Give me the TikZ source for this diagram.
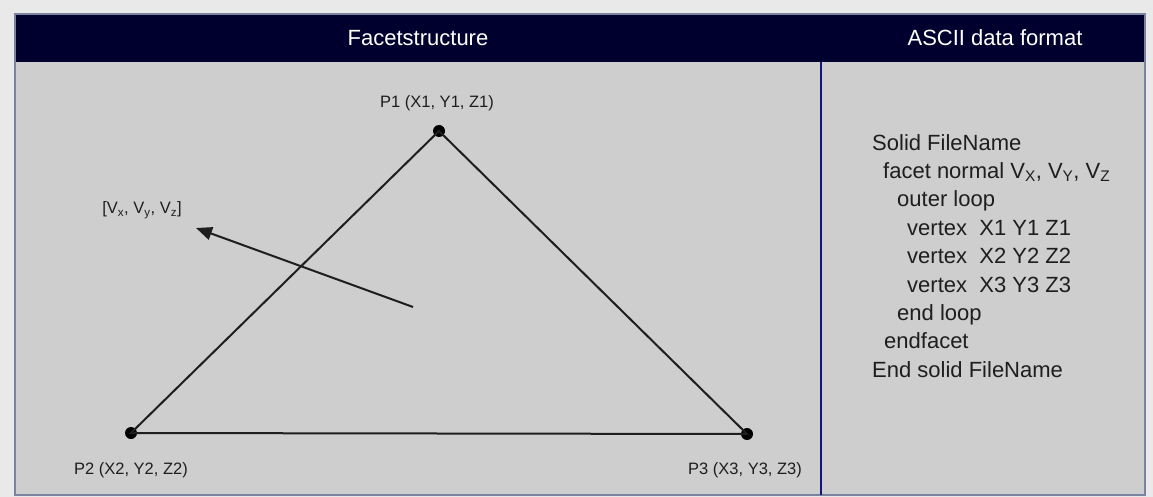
\documentclass[tikz,border=0pt]{standalone}
\usepackage{fontspec}
\setmainfont{Liberation Sans}
\usetikzlibrary{arrows.meta}
\definecolor{navy}{HTML}{00002E}
\definecolor{panel}{HTML}{CECECE}
\definecolor{outerbg}{HTML}{E9E9E9}
\definecolor{framec}{HTML}{7A84A0}
\definecolor{divc}{HTML}{14147A}
\definecolor{ink}{HTML}{1E1E1E}
\tikzset{
  edge/.style={draw=ink, line width=2pt},
  vtx/.style={circle, fill=black, inner sep=0pt, minimum size=12pt},
  lbl/.style={font=\fontsize{16.5}{18}\selectfont, text=ink, inner sep=0pt},
  hdr/.style={font=\fontsize{22}{24}\selectfont, text=white, inner sep=0pt},
  code/.style={font=\fontsize{22}{28.4}\selectfont, text=ink, inner sep=0pt, align=left, anchor=north west}
}
\begin{document}
\begin{tikzpicture}[x=1pt,y=-1pt]
\useasboundingbox (0,0) rectangle (1153,497);
\fill[outerbg] (0,0) rectangle (1153,497);
\fill[panel] (15,14) rectangle (1145,495);
\fill[navy] (15,14) rectangle (1145,62);
\draw[framec, line width=1.5pt] (15,14) rectangle (1145,495);
\draw[divc, line width=2pt] (821,62) -- (821,495);
\node[hdr] (h1) at (418,38) {Facetstructure};
\node[hdr] (h2) at (995,38) {ASCII data format};
% triangle
\node[vtx] (p1) at (439,131) {};
\node[vtx] (p2) at (131,433) {};
\node[vtx] (p3) at (747,434) {};
\draw[edge] (p1.center) -- (p2.center) -- (p3.center) -- cycle;
\node[lbl] (l1) at (437,103) {P1 (X1, Y1, Z1)};
\node[lbl] (l2) at (131,470) {P2 (X2, Y2, Z2)};
\node[lbl] (l3) at (745,470) {P3 (X3, Y3, Z3)};
% normal
\coordinate (n0) at (413,307);
\coordinate (n1) at (196,228);
\draw[edge, -{Triangle[length=16pt,width=13pt]}] (n0) -- (n1);
\node[lbl] (nl) at (142,210) {[V\textsubscript{x}, V\textsubscript{y}, V\textsubscript{z}]};
% ascii text
\node[code] (c) at (872,134) {%
Solid FileName\\
\hspace*{11pt}facet normal V\textsubscript{X}, V\textsubscript{Y}, V\textsubscript{Z}\\
\hspace*{25pt}outer loop\\
\hspace*{35pt}vertex\ \ X1 Y1 Z1\\
\hspace*{35pt}vertex\ \ X2 Y2 Z2\\
\hspace*{35pt}vertex\ \ X3 Y3 Z3\\
\hspace*{25pt}end loop\\
\hspace*{12pt}endfacet\\
End solid FileName};
\end{tikzpicture}
\end{document}
